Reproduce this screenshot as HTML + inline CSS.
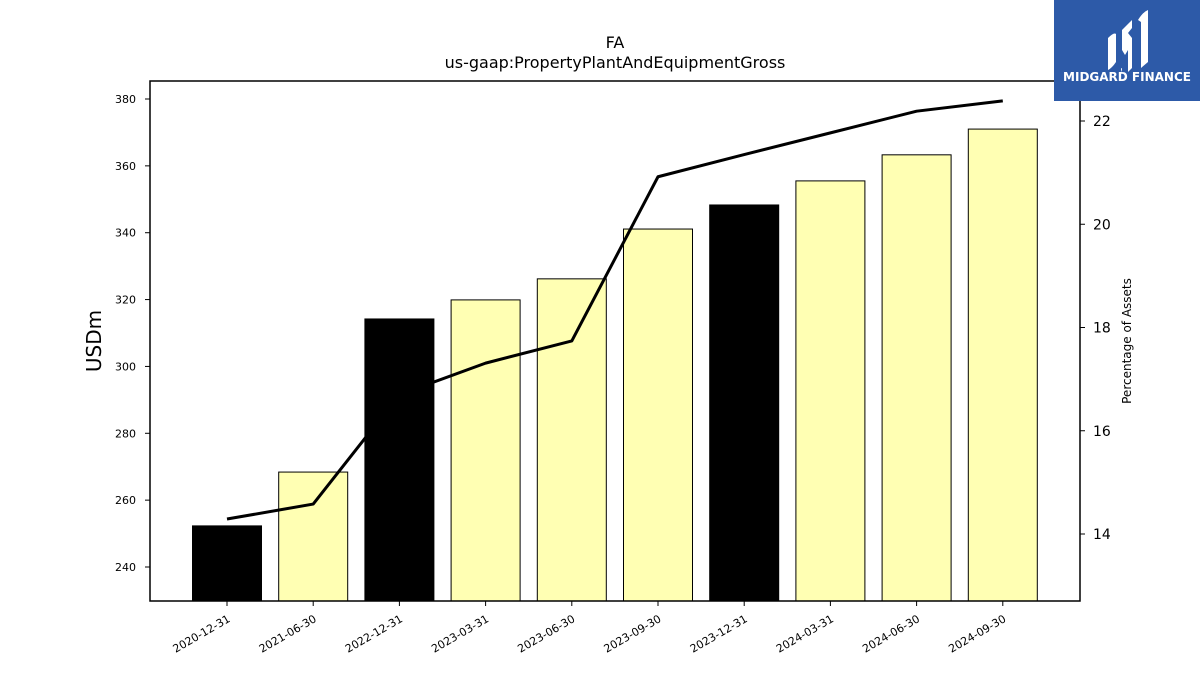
<!DOCTYPE html>
<html><head><meta charset="utf-8"><style>
body{margin:0;background:#fff;font-family:"Liberation Sans","DejaVu Sans",sans-serif}
svg text{font-family:"DejaVu Sans","Liberation Sans",sans-serif}
</style></head><body>
<svg id="chart" width="1200" height="675" xmlns="http://www.w3.org/2000/svg">
<rect width="1200" height="675" fill="#fff"/>
<text x="615" y="48" font-size="16" text-anchor="middle">FA</text>
<text x="615" y="68" font-size="16" text-anchor="middle">us-gaap:PropertyPlantAndEquipmentGross</text>
<text transform="translate(101,341) rotate(-90)" font-size="20" text-anchor="middle">USDm</text>
<text transform="translate(1131,341) rotate(-90)" font-size="12" text-anchor="middle">Percentage of Assets</text>
<g id="bars"></g><g id="line"></g><g id="bars2"></g><g id="axes"></g>
<g>
<rect x="1054" y="0" width="146" height="101" fill="#2d5aa8"/>
<path d="M1108 38 q6-6 8-4 v28 q-4 6-8 8 z M1122 30 q6-6 10-10 v8 l-4 5 l4 5 v30 l-4 4 v-22 l-3 5 l-3-5 v22 q-2-4 0-4 z M1138 20 q5-8 10-10 v52 l-7 6 v-46 z" fill="#fff"/>
<text x="1127" y="81" font-size="12" font-weight="bold" fill="#fff" text-anchor="middle" font-family="Liberation Sans">MIDGARD FINANCE</text>
</g>
</svg>
<script>
const categories=["2020-12-31","2021-06-30","2022-12-31","2023-03-31","2023-06-30","2023-09-30","2023-12-31","2024-03-31","2024-06-30","2024-09-30"];
const barValues=[252.3,268.4,314.2,319.9,326.2,341.1,348.3,355.5,363.3,371.0];
const annual=[true,false,true,false,false,false,true,false,false,false];
const pctValues=[14.29,14.58,16.7,17.31,17.74,20.92,21.35,21.77,22.19,22.39];
const leftTicks=[240,260,280,300,320,340,360,380];
const rightTicks=[14,16,18,20,22];
const X0=150,X1=1080,Y0=81,Y1=601;
const yL=v=>567+(240-v)*(468/140);
const yR=v=>534-(v-14)*(413/8);
const xC=i=>227+i*86.2;
const NS="http://www.w3.org/2000/svg";
function mk(t,a,p){const e=document.createElementNS(NS,t);for(const k in a)e.setAttribute(k,a[k]);p.appendChild(e);return e;}
const bars=document.getElementById('bars'),bars2=document.getElementById('bars2'),line=document.getElementById('line'),axes=document.getElementById('axes');
barValues.forEach((v,i)=>{
 const r=mk('rect',{x:xC(i)-34.5,y:yL(v),width:69,height:Y1-yL(v),fill:annual[i]?'#000':'#ffffb3',stroke:'#000','stroke-width':1},annual[i]?bars2:bars);
 
 
});
const pl=mk('polyline',{points:pctValues.map((v,i)=>xC(i)+','+yR(v)).join(' '),fill:'none',stroke:'#000','stroke-width':3,'stroke-linejoin':'round'},line);


const fr=mk('rect',{x:X0,y:Y0,width:X1-X0,height:Y1-Y0,fill:'none',stroke:'#000','stroke-width':1.5},axes);


leftTicks.forEach(v=>{
 mk('line',{x1:X0-5,x2:X0,y1:yL(v),y2:yL(v),stroke:'#000'},axes);
 const t=mk('text',{x:X0-14,y:yL(v)+4,'font-size':11,'text-anchor':'end'},axes);t.textContent=v;
 
 
});
rightTicks.forEach(v=>{
 mk('line',{x1:X1,x2:X1+5,y1:yR(v),y2:yR(v),stroke:'#000'},axes);
 const t=mk('text',{x:X1+13,y:yR(v)+5,'font-size':14},axes);t.textContent=v;
 
 
});
categories.forEach((c,i)=>{
 mk('line',{x1:xC(i),x2:xC(i),y1:Y1,y2:Y1+5,stroke:'#000'},axes);
 const t=mk('text',{transform:`translate(${xC(i)+4},${Y1+20}) rotate(-30)`,'font-size':11,'text-anchor':'end'},axes);t.textContent=c;
 
 
});
</script>
</body></html>
